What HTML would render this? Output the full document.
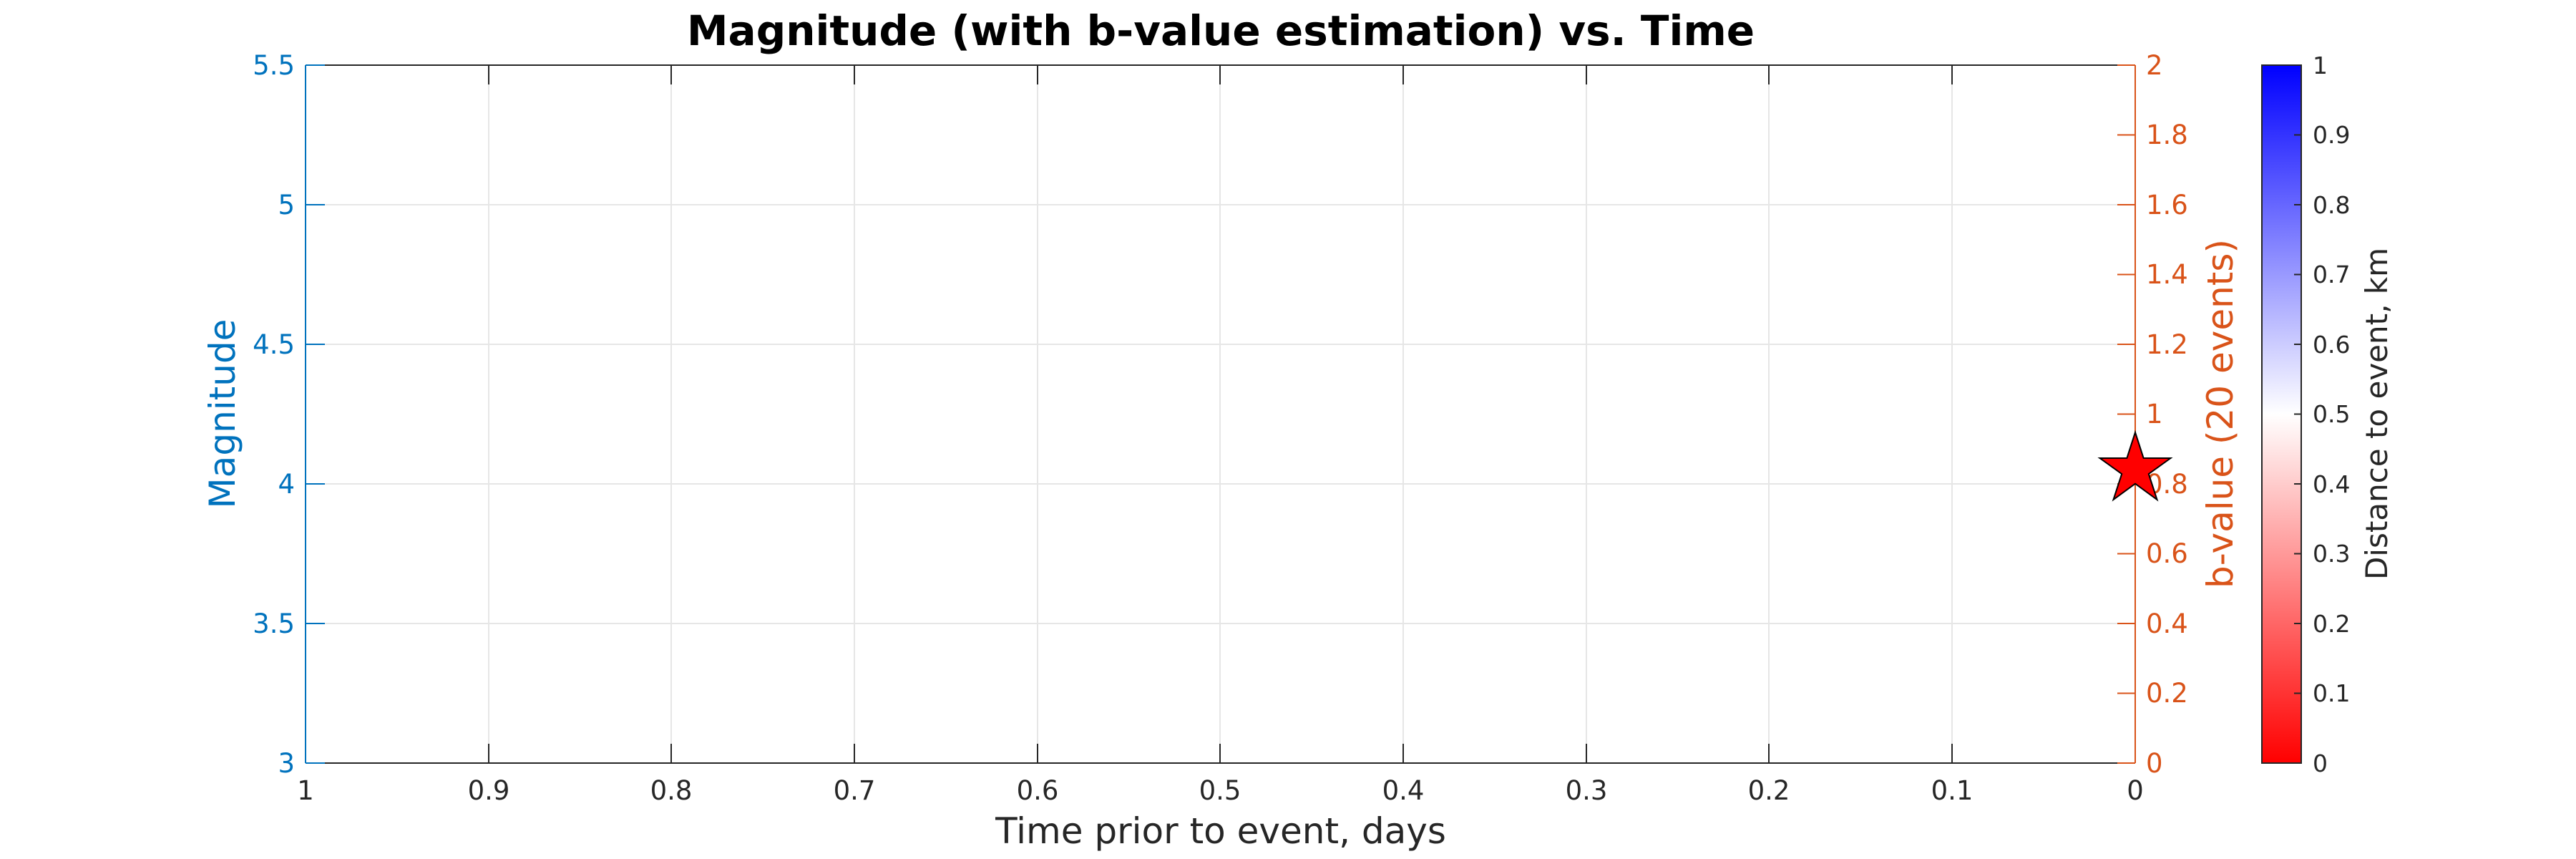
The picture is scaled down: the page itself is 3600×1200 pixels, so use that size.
<!DOCTYPE html>
<html><head><meta charset="utf-8"><style>
html,body{margin:0;padding:0;background:#fff;}
svg{display:block;}
text{font-family:"DejaVu Sans","Liberation Sans",sans-serif;}
</style></head><body>
<svg width="3600" height="1200" viewBox="0 0 3600 1200" xmlns="http://www.w3.org/2000/svg">
<defs>
<linearGradient id="cb" x1="0" y1="1" x2="0" y2="0">
<stop offset="0" stop-color="#ff0000"/>
<stop offset="0.5" stop-color="#ffffff"/>
<stop offset="1" stop-color="#0000ff"/>
</linearGradient>
</defs>
<rect width="3600" height="1200" fill="#fff"/>
<g stroke="#e6e6e6" stroke-width="2">
<line x1="683" y1="91" x2="683" y2="1066"/>
<line x1="938" y1="91" x2="938" y2="1066"/>
<line x1="1194" y1="91" x2="1194" y2="1066"/>
<line x1="1450" y1="91" x2="1450" y2="1066"/>
<line x1="1705" y1="91" x2="1705" y2="1066"/>
<line x1="1961" y1="91" x2="1961" y2="1066"/>
<line x1="2217" y1="91" x2="2217" y2="1066"/>
<line x1="2472" y1="91" x2="2472" y2="1066"/>
<line x1="2728" y1="91" x2="2728" y2="1066"/>
<line x1="427" y1="286" x2="2984" y2="286"/>
<line x1="427" y1="481" x2="2984" y2="481"/>
<line x1="427" y1="676" x2="2984" y2="676"/>
<line x1="427" y1="871" x2="2984" y2="871"/>
</g>
<g stroke="#262626" stroke-width="2">
<line x1="427" y1="91" x2="2984" y2="91"/>
<line x1="427" y1="1066" x2="2984" y2="1066"/>
<line x1="683" y1="91" x2="683" y2="118"/><line x1="683" y1="1066" x2="683" y2="1039"/>
<line x1="938" y1="91" x2="938" y2="118"/><line x1="938" y1="1066" x2="938" y2="1039"/>
<line x1="1194" y1="91" x2="1194" y2="118"/><line x1="1194" y1="1066" x2="1194" y2="1039"/>
<line x1="1450" y1="91" x2="1450" y2="118"/><line x1="1450" y1="1066" x2="1450" y2="1039"/>
<line x1="1705" y1="91" x2="1705" y2="118"/><line x1="1705" y1="1066" x2="1705" y2="1039"/>
<line x1="1961" y1="91" x2="1961" y2="118"/><line x1="1961" y1="1066" x2="1961" y2="1039"/>
<line x1="2217" y1="91" x2="2217" y2="118"/><line x1="2217" y1="1066" x2="2217" y2="1039"/>
<line x1="2472" y1="91" x2="2472" y2="118"/><line x1="2472" y1="1066" x2="2472" y2="1039"/>
<line x1="2728" y1="91" x2="2728" y2="118"/><line x1="2728" y1="1066" x2="2728" y2="1039"/>
</g>
<g stroke="#0072BD" stroke-width="2">
<line x1="427" y1="91" x2="427" y2="1066"/>
<line x1="427" y1="91" x2="454" y2="91"/>
<line x1="427" y1="286" x2="454" y2="286"/>
<line x1="427" y1="481" x2="454" y2="481"/>
<line x1="427" y1="676" x2="454" y2="676"/>
<line x1="427" y1="871" x2="454" y2="871"/>
<line x1="427" y1="1066" x2="454" y2="1066"/>
</g>
<g fill="#0072BD" font-size="37" text-anchor="end">
<text x="412" y="104">5.5</text>
<text x="412" y="299">5</text>
<text x="412" y="494">4.5</text>
<text x="412" y="689">4</text>
<text x="412" y="884">3.5</text>
<text x="412" y="1079">3</text>
</g>
<text transform="translate(328,578) rotate(-90)" fill="#0072BD" font-size="50" text-anchor="middle">Magnitude</text>
<g stroke="#D95319" stroke-width="2">
<line x1="2984" y1="91" x2="2984" y2="1066"/>
<line x1="2959" y1="91" x2="2984" y2="91"/>
<line x1="2959" y1="188.5" x2="2984" y2="188.5"/>
<line x1="2959" y1="286" x2="2984" y2="286"/>
<line x1="2959" y1="383.5" x2="2984" y2="383.5"/>
<line x1="2959" y1="481" x2="2984" y2="481"/>
<line x1="2959" y1="578.5" x2="2984" y2="578.5"/>
<line x1="2959" y1="676" x2="2984" y2="676"/>
<line x1="2959" y1="773.5" x2="2984" y2="773.5"/>
<line x1="2959" y1="871" x2="2984" y2="871"/>
<line x1="2959" y1="968.5" x2="2984" y2="968.5"/>
<line x1="2959" y1="1066" x2="2984" y2="1066"/>
</g>
<g fill="#D95319" font-size="37">
<text x="2999" y="104">2</text>
<text x="2999" y="201">1.8</text>
<text x="2999" y="299">1.6</text>
<text x="2999" y="396">1.4</text>
<text x="2999" y="494">1.2</text>
<text x="2999" y="591">1</text>
<text x="2999" y="689">0.8</text>
<text x="2999" y="786">0.6</text>
<text x="2999" y="884">0.4</text>
<text x="2999" y="981">0.2</text>
<text x="2999" y="1079">0</text>
</g>
<text transform="translate(3120,578) rotate(-90)" fill="#D95319" font-size="50" text-anchor="middle">b-value (20 events)</text>
<g fill="#262626" font-size="37" text-anchor="middle">
<text x="427" y="1117">1</text>
<text x="683" y="1117">0.9</text>
<text x="938" y="1117">0.8</text>
<text x="1194" y="1117">0.7</text>
<text x="1450" y="1117">0.6</text>
<text x="1705" y="1117">0.5</text>
<text x="1961" y="1117">0.4</text>
<text x="2217" y="1117">0.3</text>
<text x="2472" y="1117">0.2</text>
<text x="2728" y="1117">0.1</text>
<text x="2984" y="1117">0</text>
</g>
<text x="1706" y="1178" fill="#262626" font-size="50" text-anchor="middle">Time prior to event, days</text>
<text x="1706" y="63" fill="#000" font-size="58" font-weight="bold" text-anchor="middle">Magnitude (with b-value estimation) vs. Time</text>
<polygon fill="#ff0000" stroke="#000" stroke-width="2" points="2984,604 2995.6,639.9 3033.5,640 3002.8,662.1 3014.5,698 2984,675.7 2953.5,698 2965.2,662.1 2934.5,640 2972.4,639.9"/>
<rect x="3161" y="91" width="55" height="975" fill="url(#cb)" stroke="#262626" stroke-width="2"/>
<g stroke="#262626" stroke-width="2">
<line x1="3206" y1="188.5" x2="3216" y2="188.5"/>
<line x1="3206" y1="286" x2="3216" y2="286"/>
<line x1="3206" y1="383.5" x2="3216" y2="383.5"/>
<line x1="3206" y1="481" x2="3216" y2="481"/>
<line x1="3206" y1="578.5" x2="3216" y2="578.5"/>
<line x1="3206" y1="676" x2="3216" y2="676"/>
<line x1="3206" y1="773.5" x2="3216" y2="773.5"/>
<line x1="3206" y1="871" x2="3216" y2="871"/>
<line x1="3206" y1="968.5" x2="3216" y2="968.5"/>
</g>
<g fill="#262626" font-size="33">
<text x="3232" y="103">1</text>
<text x="3232" y="200">0.9</text>
<text x="3232" y="298">0.8</text>
<text x="3232" y="395">0.7</text>
<text x="3232" y="493">0.6</text>
<text x="3232" y="590">0.5</text>
<text x="3232" y="688">0.4</text>
<text x="3232" y="785">0.3</text>
<text x="3232" y="883">0.2</text>
<text x="3232" y="980">0.1</text>
<text x="3232" y="1078">0</text>
</g>
<text transform="translate(3336,578) rotate(-90)" fill="#262626" font-size="42" text-anchor="middle">Distance to event, km</text>
</svg>
</body></html>
